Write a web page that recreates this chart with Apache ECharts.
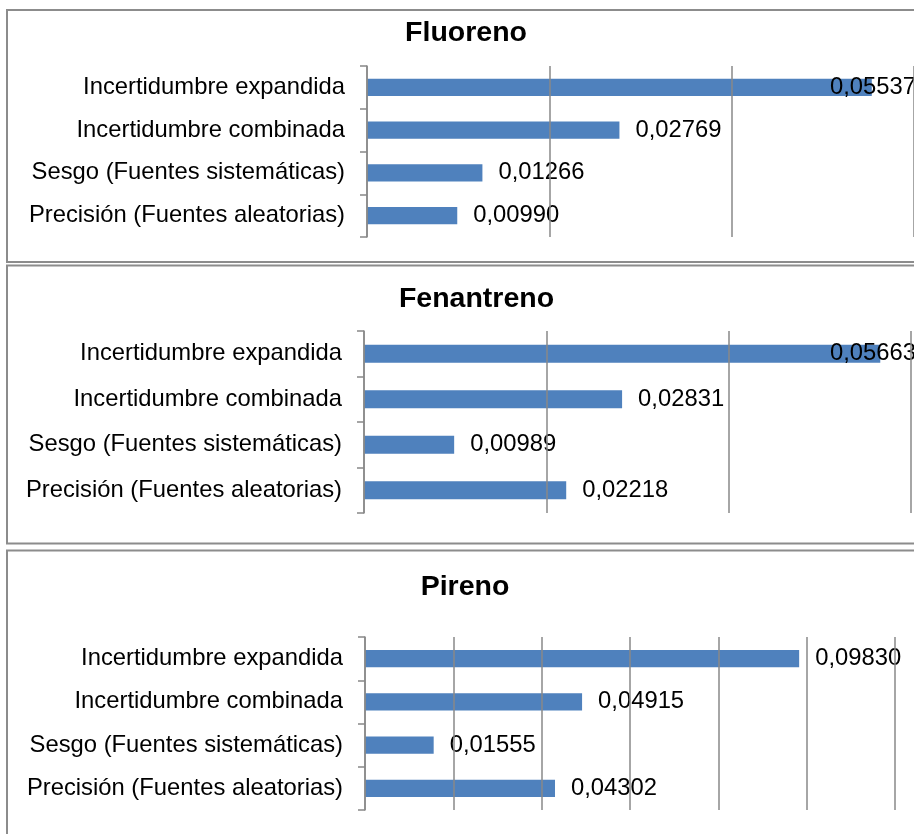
<!DOCTYPE html>
<html>
<head>
<meta charset="utf-8">
<title>Incertidumbre – Fluoreno, Fenantreno, Pireno</title>
<script src="https://cdn.jsdelivr.net/npm/echarts@6/dist/echarts.min.js"></script>
<style>
  html, body { margin: 0; padding: 0; background: #ffffff; }
  #chart { width: 914px; height: 834px; }
</style>
</head>
<body>
<div id="chart"></div>
<script>
// Uncertainty components, listed top to bottom as drawn
const categories = [
  'Incertidumbre expandida',
  'Incertidumbre combinada',
  'Sesgo (Fuentes sistemáticas)',
  'Precisión (Fuentes aleatorias)'
];

const panelTitles = ['Fluoreno', 'Fenantreno', 'Pireno'];

const fluorenoValues   = [0.05537, 0.02769, 0.01266, 0.00990];
const fenantrenoValues = [0.05663, 0.02831, 0.00989, 0.02218];
const pirenoValues     = [0.09830, 0.04915, 0.01555, 0.04302];

// Value axis range per panel
const axisMax      = [0.06, 0.06, 0.12];
const axisInterval = [0.02, 0.02, 0.02];

const panelValues = [fluorenoValues, fenantrenoValues, pirenoValues];

// ---- layout and style ----
const FONT = "'Liberation Sans', Arial, sans-serif";
const LABEL_SIZE = 23.8;
const TITLE_SIZE = 28.5;
const BAR_COLOR = '#4f81bd';
const LINE_COLOR = '#888888';
const LABEL_GAP = 16;
const CHART_AREA_RIGHT = 916;   // labels are pulled back inside this edge

const grids = [
  { left: 367, top: 66,  width: 547, height: 171 },
  { left: 364, top: 331, width: 547, height: 182 },
  { left: 365, top: 637, width: 530, height: 173 }
];
const frames = [
  { x: 7, y: 10,    height: 252 },
  { x: 7, y: 265.5, height: 278 },
  { x: 7, y: 550.5, height: 400 }
];
const titlePos = [[466, 33], [476.5, 299.5], [465, 587.5]];

const fmt = v => v.toFixed(5).replace('.', ',');

const chart = echarts.init(document.getElementById('chart'), null, { renderer: 'canvas' });

function buildOption(labelDistances) {
  const graphic = [];
  frames.forEach(f => {
    graphic.push({
      type: 'rect', silent: true, z: 0,
      shape: { x: f.x, y: f.y, width: 1000, height: f.height },
      style: { fill: '#ffffff', stroke: '#8c8c8c', lineWidth: 2 }
    });
  });
  panelTitles.forEach((t, i) => {
    graphic.push({
      type: 'text', silent: true, z: 10,
      x: titlePos[i][0], y: titlePos[i][1],
      style: {
        text: t, fill: '#000000',
        font: 'bold ' + TITLE_SIZE + 'px ' + FONT,
        align: 'center', verticalAlign: 'middle'
      }
    });
  });

  return {
    animation: false,
    backgroundColor: '#ffffff',
    graphic: graphic,
    grid: grids.map(g => Object.assign({ containLabel: false }, g)),
    xAxis: grids.map((g, i) => ({
      type: 'value',
      gridIndex: i,
      min: 0,
      max: axisMax[i],
      interval: axisInterval[i],
      z: 3,
      axisLine: { show: false },
      axisTick: { show: false },
      axisLabel: { show: false },
      splitLine: { show: true, lineStyle: { color: LINE_COLOR, width: 1.5 } }
    })),
    yAxis: grids.map((g, i) => ({
      type: 'category',
      gridIndex: i,
      data: categories,
      inverse: true,
      z: 4,
      axisLine: { show: true, lineStyle: { color: LINE_COLOR, width: 1.5 } },
      axisTick: { show: true, inside: false, length: 7, lineStyle: { color: LINE_COLOR, width: 1.5 } },
      axisLabel: {
        margin: 22,
        color: '#000000',
        fontFamily: FONT,
        fontSize: LABEL_SIZE
      },
      splitLine: { show: false }
    })),
    series: panelValues.map((vals, i) => ({
      type: 'bar',
      xAxisIndex: i,
      yAxisIndex: i,
      barCategoryGap: '60%',
      itemStyle: { color: BAR_COLOR },
      label: {
        show: true,
        position: 'right',
        distance: LABEL_GAP,
        color: '#000000',
        fontFamily: FONT,
        fontSize: LABEL_SIZE,
        formatter: p => fmt(p.value)
      },
      data: vals.map((v, k) => {
        const d = labelDistances && labelDistances[i][k];
        return d == null ? v : { value: v, label: { distance: d } };
      })
    }))
  };
}

chart.setOption(buildOption(null));

// Keep value labels inside the chart area: a label that would run past the
// right edge is pulled back over its bar.
const ctx = document.createElement('canvas').getContext('2d');
ctx.font = LABEL_SIZE + 'px ' + FONT;
const distances = panelValues.map((vals, i) => vals.map((v, k) => {
  const end = chart.convertToPixel({ seriesIndex: i }, [v, k])[0];
  const w = ctx.measureText(fmt(v)).width;
  if (end + LABEL_GAP + w > CHART_AREA_RIGHT) {
    return CHART_AREA_RIGHT - w - end;
  }
  return null;
}));
chart.setOption(buildOption(distances), true);
</script>
</body>
</html>
